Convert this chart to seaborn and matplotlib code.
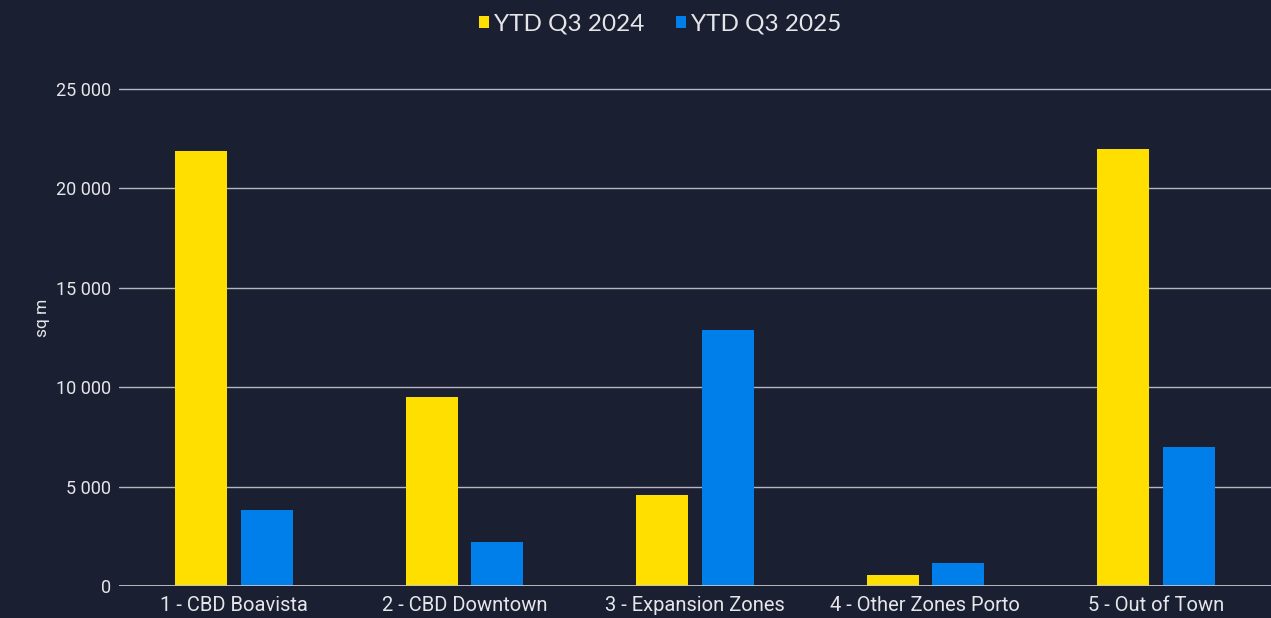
import numpy as np
import pandas as pd
import matplotlib.pyplot as plt
import seaborn as sns

# Data (sq m take-up by zone)
zones = ["1 - CBD Boavista", "2 - CBD Downtown", "3 - Expansion Zones",
         "4 - Other Zones Porto", "5 - Out of Town"]
ytd_2024 = [21850, 9500, 4600, 570, 21980]
ytd_2025 = [3810, 2210, 12850, 1160, 7010]
series = ["YTD Q3 2024", "YTD Q3 2025"]
yticks = [0, 5000, 10000, 15000, 20000, 25000]

BG = "#1a1f31"
YELLOW = "#FFDF00"
BLUE = "#007FEB"
TEXT = "#e6e6ea"

df = pd.DataFrame({
    "zone": zones * 2,
    "period": [series[0]] * len(zones) + [series[1]] * len(zones),
    "sqm": ytd_2024 + ytd_2025,
})

sns.set_style("dark")
plt.rcParams["font.family"] = ["Roboto", "DejaVu Sans"]

fig = plt.figure(figsize=(12.71, 6.18), dpi=100, facecolor=BG)
ax = fig.add_axes([119 / 1271, 32 / 618, 1152 / 1271, 537 / 618])
ax.set_facecolor(BG)

sns.barplot(data=df, x="zone", y="sqm", hue="period", order=zones,
            hue_order=series, palette=[YELLOW, BLUE], width=0.57, gap=0.21,
            saturation=1, linewidth=0, ax=ax, legend=True)

ax.set_ylim(0, 27000)
ax.set_xlim(-0.5, len(zones) - 0.5)
ax.set_yticks(yticks)
ax.set_yticklabels([f"{v:,}".replace(",", " ") for v in yticks])
ax.yaxis.grid(True, color="#b4b6c0", linewidth=1)
ax.xaxis.grid(False)
ax.set_axisbelow(True)
for s in ax.spines.values():
    s.set_visible(False)
ax.axhline(0, color="#c4c4c8", linewidth=2, zorder=3)

ax.tick_params(axis="y", length=0, pad=6, labelsize=13, labelcolor=TEXT)
ax.tick_params(axis="x", length=0, pad=7, labelsize=14.5, labelcolor=TEXT)
ax.set_xlabel("")
ax.set_ylabel("sq m", color=TEXT, fontsize=12.5, labelpad=4)

handles, labels = ax.get_legend_handles_labels()
ax.get_legend().remove()
for h in handles:
    h.set_linewidth(0)
leg = fig.legend(handles, labels, loc="center", bbox_to_anchor=(660 / 1271, 1 - 24 / 618),
                 ncol=2, frameon=False, handlelength=0.42, handleheight=0.42,
                 handletextpad=0.2, columnspacing=1.3,
                 prop={"family": "Lato", "size": 17.5})
for t in leg.get_texts():
    t.set_color(TEXT)

fig.savefig("out.png", dpi=100, facecolor=BG)
